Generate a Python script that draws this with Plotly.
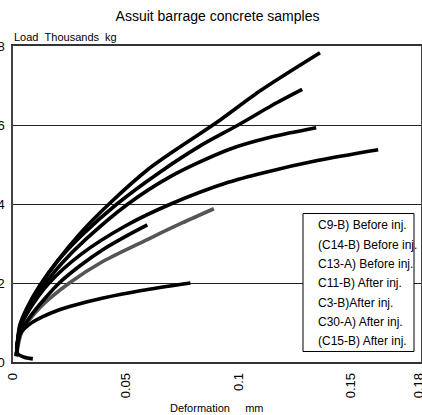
import plotly.graph_objects as go

# Load–deformation readings for each concrete sample (deformation in mm, load in thousands of kg)
c9b_x = [0.0015, 0.003, 0.006, 0.012, 0.020, 0.030, 0.0426, 0.060, 0.075, 0.090, 0.110, 0.1362]
c9b_y = [0.15, 0.86, 1.29, 1.92, 2.58, 3.27, 4.00, 4.88, 5.48, 6.05, 6.88, 7.83]

c14b_x = [0.0015, 0.003, 0.006, 0.012, 0.020, 0.030, 0.0461, 0.065, 0.0836, 0.0999, 0.115, 0.1283]
c14b_y = [0.15, 0.93, 1.35, 1.95, 2.57, 3.18, 4.00, 4.80, 5.49, 6.00, 6.50, 6.90]

c13a_x = [0.0015, 0.003, 0.006, 0.0145, 0.022, 0.032, 0.051, 0.070, 0.0955, 0.115, 0.1345]
c13a_y = [0.15, 0.84, 1.23, 2.00, 2.52, 3.09, 4.00, 4.70, 5.375, 5.70, 5.93]

c11b_x = [0.0015, 0.003, 0.007, 0.016, 0.030, 0.050, 0.070, 0.0955, 0.1117, 0.135, 0.162]
c11b_y = [0.15, 0.85, 1.30, 2.00, 2.72, 3.45, 4.00, 4.55, 4.80, 5.10, 5.375]

c3b_x = [0.0015, 0.004, 0.012, 0.025, 0.040, 0.0603, 0.075, 0.0891]
c3b_y = [0.15, 0.78, 1.38, 2.00, 2.55, 3.12, 3.52, 3.88]

c30a_x = [0.0015, 0.003, 0.008, 0.0205, 0.030, 0.040, 0.050, 0.0596]
c30a_y = [0.15, 0.69, 1.18, 2.00, 2.45, 2.85, 3.18, 3.47]

c15b_x = [0.0088, 0.005, 0.002, 0.0018, 0.003, 0.007, 0.013, 0.020, 0.028, 0.040, 0.057, 0.0787]
c15b_y = [0.08, 0.12, 0.22, 0.45, 0.70, 0.94, 1.14, 1.31, 1.45, 1.62, 1.81, 2.00]

series = [
    ("(C9-B) Before inj.", c9b_x, c9b_y, "black"),
    ("(C14-B) Before inj.", c14b_x, c14b_y, "black"),
    ("(C13-A) Before inj.", c13a_x, c13a_y, "black"),
    ("(C11-B) After inj.", c11b_x, c11b_y, "black"),
    ("(C3-B) After inj.", c3b_x, c3b_y, "#555555"),
    ("(C30-A) After inj.", c30a_x, c30a_y, "black"),
    ("(C15-B) After inj.", c15b_x, c15b_y, "black"),
]

# Text shown inside the key box
legend_labels = [
    "C9-B) Before inj.",
    "(C14-B) Before inj.",
    "C13-A) Before inj.",
    "C11-B) After inj.",
    "C3-B)After inj.",
    "C30-A) After inj.",
    "(C15-B) After inj.",
]

x_ticks = [0, 0.05, 0.1, 0.15, 0.18]
x_tick_text = ["0", "0.05", "0.1", "0.15", "0.18"]
y_ticks = [0, 2, 4, 6, 8]

FONT = "Liberation Sans, Arial, Helvetica, sans-serif"

fig = go.Figure()
for name, xs, ys, color in series:
    fig.add_trace(go.Scatter(
        x=xs, y=ys, name=name, mode="lines",
        line=dict(color=color, width=3.6, shape="spline", smoothing=0.8),
        showlegend=False,
    ))

W, H = 422, 415
ML, MR, MT, MB = 13, 1, 46, 53
plot_w = W - ML - MR
plot_h = H - MT - MB


def px_to_paper_x(px):
    return (px - ML) / plot_w


def py_to_paper_y(py):
    return (H - MB - py) / plot_h


# Key box with the sample labels
fig.add_shape(
    type="rect", xref="paper", yref="paper",
    x0=px_to_paper_x(303), x1=px_to_paper_x(414),
    y0=py_to_paper_y(351.5), y1=py_to_paper_y(213.5),
    fillcolor="white", line=dict(color="black", width=1), layer="above",
)
row_top, row_step = 225.5, 19.3
annotations = []
for i, label in enumerate(legend_labels):
    annotations.append(dict(
        text=label, xref="paper", yref="paper",
        x=px_to_paper_x(316), y=py_to_paper_y(row_top + i * row_step),
        xanchor="left", yanchor="middle", showarrow=False,
        font=dict(family=FONT, size=12, color="black"),
    ))

# Axis captions
annotations.append(dict(
    text="Load\u00a0\u00a0Thousands\u00a0\u00a0kg", xref="paper", yref="paper",
    x=px_to_paper_x(12), y=py_to_paper_y(37), xanchor="left", yanchor="middle",
    showarrow=False, font=dict(family=FONT, size=11, color="black"),
))
annotations.append(dict(
    text="Deformation\u00a0\u00a0\u00a0\u00a0\u00a0mm", xref="paper", yref="paper",
    x=px_to_paper_x(217), y=py_to_paper_y(408), xanchor="center", yanchor="middle",
    showarrow=False, font=dict(family=FONT, size=11, color="black"),
))

fig.update_layout(
    width=W, height=H,
    margin=dict(l=ML, r=MR, t=MT, b=MB, pad=0),
    paper_bgcolor="white", plot_bgcolor="white",
    title=dict(text="Assuit barrage concrete samples", x=px_to_paper_x(217.5), xref="paper",
               y=1 - 16.5 / H, yref="container", xanchor="center", yanchor="middle",
               font=dict(family=FONT, size=14, color="black")),
    annotations=annotations,
    showlegend=False,
)
fig.update_xaxes(
    range=[0, 0.181], tickvals=x_ticks, ticktext=x_tick_text, tickangle=-90,
    showgrid=False, zeroline=False, showline=True, mirror=True,
    linecolor="#333333", linewidth=1.5, ticks="", ticklabelstandoff=4,
    ticklabeloverflow="allow",
    tickfont=dict(family=FONT, size=13, color="black"), automargin=False,
)
fig.update_yaxes(
    range=[0, 8], tickvals=y_ticks, showgrid=True, gridcolor="#222222", gridwidth=1,
    zeroline=False, showline=True, mirror=True, linecolor="#444444", linewidth=1.5,
    ticks="", ticklabelstandoff=4, ticklabeloverflow="allow",
    tickfont=dict(family=FONT, size=13, color="black"), automargin=False,
)

fig.write_html("out.html")
